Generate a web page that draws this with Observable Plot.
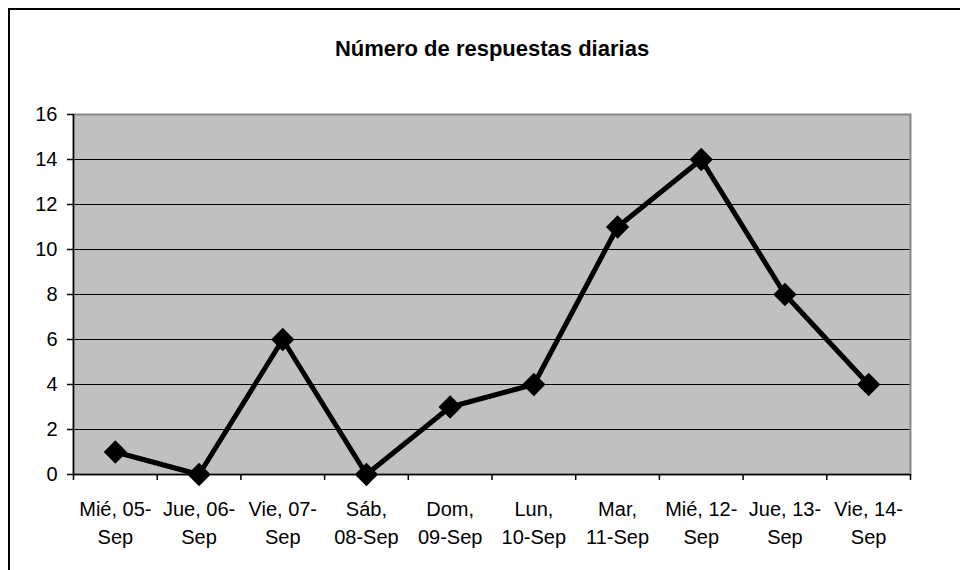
<!DOCTYPE html>
<html><head><meta charset="utf-8">
<script src="https://cdn.jsdelivr.net/npm/d3@7"></script>
<script src="https://cdn.jsdelivr.net/npm/@observablehq/plot@0.6"></script>
<style>
html,body{margin:0;padding:0;background:#fff;overflow:hidden;width:960px;height:570px}
#frame{position:absolute;left:8px;top:8px;width:1000px;height:600px;border:2px solid #000;box-sizing:border-box;z-index:2;pointer-events:none}
#chart{position:absolute;left:0;top:0}
</style></head><body><div id="frame"></div><div id="chart"></div>
<script>
const title = "Número de respuestas diarias";
const days = ["Mié, 05-\nSep", "Jue, 06-\nSep", "Vie, 07-\nSep", "Sáb,\n08-Sep", "Dom,\n09-Sep",
              "Lun,\n10-Sep", "Mar,\n11-Sep", "Mié, 12-\nSep", "Jue, 13-\nSep", "Vie, 14-\nSep"];
const respuestas = [1, 0, 6, 0, 3, 4, 11, 14, 8, 4];
const yTicks = [0, 2, 4, 6, 8, 10, 12, 14, 16];

const bounds = d3.range(days.length + 1).map(i => i - 0.5);
const data = respuestas.map((v, i) => ({i, v}));

const chart = Plot.plot({
  width: 960, height: 570,
  marginLeft: 73, marginRight: 50, marginTop: 114, marginBottom: 96,
  style: {fontFamily: "'Liberation Sans', Arial, sans-serif", fontSize: "20px", background: "transparent", color: "#000"},
  x: {type: "linear", domain: [-0.5, days.length - 0.5]},
  y: {domain: [0, 16]},
  marks: [
    Plot.frame({fill: "#C0C0C0"}),
    Plot.gridY(yTicks.filter(v => v > 0 && v < 16), {stroke: "#000", strokeOpacity: 1, strokeWidth: 1}),
    Plot.frame({stroke: "#888", strokeWidth: 2}),
    Plot.axisY(yTicks, {tickSize: 6, tickPadding: 10, stroke: "#000", strokeWidth: 1.5, fontSize: 20, label: null}),
    Plot.axisX(bounds, {tickSize: 6, tickFormat: () => "", stroke: "#000", strokeWidth: 1.5, label: null}),
    Plot.ruleX([-0.5], {stroke: "#000", strokeWidth: 1.5}),
    Plot.ruleY([0], {stroke: "#000", strokeWidth: 1.5}),
    Plot.line(data, {x: "i", y: "v", stroke: "#000", strokeWidth: 5, strokeLinejoin: "miter"}),
    Plot.dot(data, {x: "i", y: "v", symbol: "diamond2", r: 10.5, fill: "#000", stroke: "none"}),
    Plot.text(days, {x: (d, i) => i, text: d => d, frameAnchor: "bottom", lineAnchor: "top", dy: 22, fontSize: 20, lineHeight: 1.4, fill: "#000"}),
    Plot.text([title], {frameAnchor: "top", lineAnchor: "top", dy: -74, fontSize: 22, fontWeight: "bold", fill: "#000"})
  ]
});
document.getElementById("chart").appendChild(chart);
</script>
</body></html>
